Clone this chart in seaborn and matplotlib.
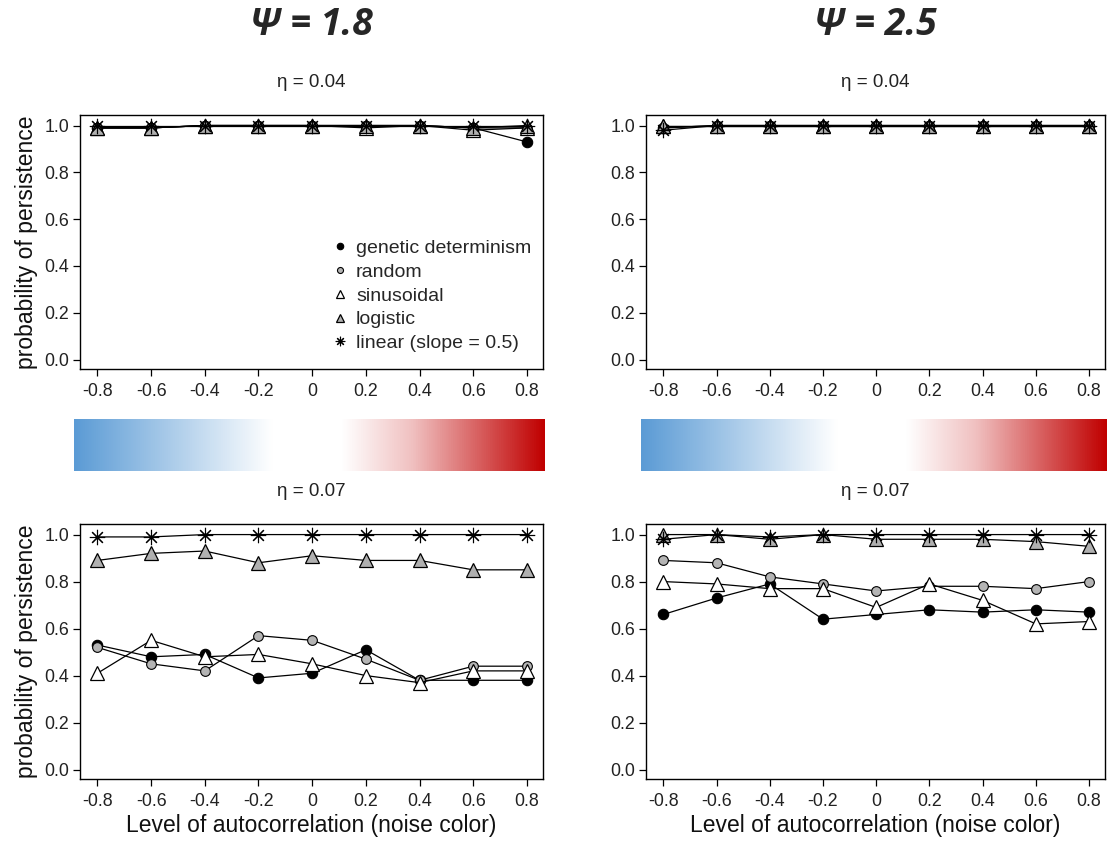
import numpy as np
import pandas as pd
import matplotlib
matplotlib.use("Agg")
import matplotlib.pyplot as plt
from matplotlib.colors import LinearSegmentedColormap
from matplotlib.lines import Line2D
import seaborn as sns

sns.set_theme(style="white")
plt.rcParams["font.family"] = ["Liberation Sans", "DejaVu Sans"]
plt.rcParams["axes.unicode_minus"] = False

# autocorrelation levels (noise colour)
rho = [-0.8, -0.6, -0.4, -0.2, 0.0, 0.2, 0.4, 0.6, 0.8]
rho_labels = ["-0.8", "-0.6", "-0.4", "-0.2", "0", "0.2", "0.4", "0.6", "0.8"]
y_ticks = [0.0, 0.2, 0.4, 0.6, 0.8, 1.0]

psi_titles = ["\u03a8 = 1.8", "\u03a8 = 2.5"]
eta_titles = ["\u03b7 = 0.04", "\u03b7 = 0.07"]

series_names = ["genetic determinism", "random", "sinusoidal", "logistic",
                "linear (slope = 0.5)"]

# probability of persistence, psi = 1.8, eta = 0.04
p18_e04_genetic = [0.99, 0.99, 1.00, 1.00, 1.00, 1.00, 1.00, 0.99, 0.93]
p18_e04_random = [0.99, 0.99, 1.00, 1.00, 1.00, 1.00, 1.00, 0.99, 0.99]
p18_e04_sinus = [0.99, 0.99, 1.00, 1.00, 1.00, 0.99, 1.00, 0.98, 0.99]
p18_e04_logistic = [0.99, 0.99, 1.00, 1.00, 1.00, 1.00, 1.00, 0.99, 1.00]
p18_e04_linear = [1.00, 1.00, 1.00, 1.00, 1.00, 1.00, 1.00, 1.00, 1.00]

# psi = 2.5, eta = 0.04
p25_e04_genetic = [0.99, 1.00, 1.00, 1.00, 1.00, 1.00, 1.00, 1.00, 1.00]
p25_e04_random = [0.99, 1.00, 1.00, 1.00, 1.00, 1.00, 1.00, 1.00, 1.00]
p25_e04_sinus = [1.00, 1.00, 1.00, 1.00, 1.00, 1.00, 1.00, 1.00, 1.00]
p25_e04_logistic = [1.00, 1.00, 1.00, 1.00, 1.00, 1.00, 1.00, 1.00, 1.00]
p25_e04_linear = [0.98, 1.00, 1.00, 1.00, 1.00, 1.00, 1.00, 1.00, 1.00]

# psi = 1.8, eta = 0.07
p18_e07_genetic = [0.53, 0.48, 0.49, 0.39, 0.41, 0.51, 0.38, 0.38, 0.38]
p18_e07_random = [0.52, 0.45, 0.42, 0.57, 0.55, 0.47, 0.38, 0.44, 0.44]
p18_e07_sinus = [0.41, 0.55, 0.48, 0.49, 0.45, 0.40, 0.37, 0.42, 0.42]
p18_e07_logistic = [0.89, 0.92, 0.93, 0.88, 0.91, 0.89, 0.89, 0.85, 0.85]
p18_e07_linear = [0.99, 0.99, 1.00, 1.00, 1.00, 1.00, 1.00, 1.00, 1.00]

# psi = 2.5, eta = 0.07
p25_e07_genetic = [0.66, 0.73, 0.79, 0.64, 0.66, 0.68, 0.67, 0.68, 0.67]
p25_e07_random = [0.89, 0.88, 0.82, 0.79, 0.76, 0.78, 0.78, 0.77, 0.80]
p25_e07_sinus = [0.80, 0.79, 0.77, 0.77, 0.69, 0.79, 0.72, 0.62, 0.63]
p25_e07_logistic = [1.00, 1.00, 0.98, 1.00, 0.98, 0.98, 0.98, 0.97, 0.95]
p25_e07_linear = [0.98, 1.00, 0.99, 1.00, 1.00, 1.00, 1.00, 1.00, 1.00]

panels = {
    (0, 0): [p18_e04_genetic, p18_e04_random, p18_e04_sinus, p18_e04_logistic, p18_e04_linear],
    (0, 1): [p25_e04_genetic, p25_e04_random, p25_e04_sinus, p25_e04_logistic, p25_e04_linear],
    (1, 0): [p18_e07_genetic, p18_e07_random, p18_e07_sinus, p18_e07_logistic, p18_e07_linear],
    (1, 1): [p25_e07_genetic, p25_e07_random, p25_e07_sinus, p25_e07_logistic, p25_e07_linear],
}

# marker styling per series
styles = [
    dict(marker="o", markerfacecolor="black", markersize=7.5, markeredgewidth=0.8),
    dict(marker="o", markerfacecolor="#b4b4b4", markersize=7.0, markeredgewidth=0.8),
    dict(marker="^", markerfacecolor="white", markersize=10.0, markeredgewidth=0.9),
    dict(marker="^", markerfacecolor="#b0b0b0", markersize=10.0, markeredgewidth=0.9),
    dict(marker=(8, 2, 0), markerfacecolor="black", markersize=11, markeredgewidth=0.8),
]

W, H = 1109, 849
fig = plt.figure(figsize=(W / 100, H / 100), dpi=100)

col_left = [80, 646]
col_width = [463, 459]
row_top = [115, 524]
row_height = [254, 255]

for (r, c), values in panels.items():
    left = col_left[c] / W
    bottom = 1 - (row_top[r] + row_height[r]) / H
    ax = fig.add_axes([left, bottom, col_width[c] / W, row_height[r] / H])
    for name, vals, st in zip(series_names, values, styles):
        df = pd.DataFrame({"rho": rho, "p": vals})
        sns.lineplot(data=df, x="rho", y="p", ax=ax, color="black",
                     linewidth=0.9, markeredgecolor="black", **st)
    ax.set_xlim(-0.865, 0.86)
    ax.set_ylim(-0.04, 1.045)
    ax.set_xticks(rho)
    ax.set_xticklabels(rho_labels)
    ax.set_yticks(y_ticks)
    ax.set_yticklabels([f"{t:.1f}" for t in y_ticks])
    ax.tick_params(axis="both", direction="out", length=5, width=0.9,
                   color="black", labelsize=12.8, labelcolor="#222222",
                   left=True, bottom=True)
    ax.tick_params(axis="x", pad=5)
    ax.tick_params(axis="y", pad=3)
    for sp in ax.spines.values():
        sp.set_visible(True)
        sp.set_color("black")
        sp.set_linewidth(1.0)
    ax.set_title(eta_titles[r], fontsize=13.5, pad=20, color="#222222")
    ax.set_xlabel("Level of autocorrelation (noise color)" if r == 1 else "",
                  fontsize=16.5, labelpad=3, color="#111111")
    ax.set_ylabel("probability of persistence" if c == 0 else "",
                  fontsize=16.5, labelpad=4, color="#111111")
    if r == 0 and c == 0:
        handles = [Line2D([], [], linestyle="none", markeredgecolor="black",
                          **{**st, "markersize": st["markersize"] * 0.62})
                   for st in styles]
        ax.legend(handles, series_names, loc="lower right",
                  bbox_to_anchor=(1.0, 0.02), frameon=False, fontsize=14,
                  handlelength=0.8, handletextpad=0.45, labelspacing=0.32,
                  borderaxespad=0.2)

# noise-colour gradient bars
noise_cmap = LinearSegmentedColormap.from_list(
    "noise", [(0.0, "#5b9bd5"), (0.42, "#ffffff"), (0.57, "#ffffff"),
              (0.72, "#f0c0c0"), (1.0, "#c00000")])
gradient = np.linspace(0, 1, 512).reshape(1, -1)
for x0, x1 in [(74, 545), (641, 1107)]:
    cax = fig.add_axes([x0 / W, 1 - 471 / H, (x1 - x0) / W, 52 / H])
    cax.imshow(gradient, aspect="auto", cmap=noise_cmap)
    cax.set_axis_off()

# column headers
for xc, t in zip([311, 875], psi_titles):
    fig.text(xc / W, 1 - 25 / H, t, ha="center", va="center", fontsize=27,
             fontweight="bold", fontstyle="italic",
             family=["Open Sans", "DejaVu Sans"])

fig.savefig("out.png", dpi=100)
